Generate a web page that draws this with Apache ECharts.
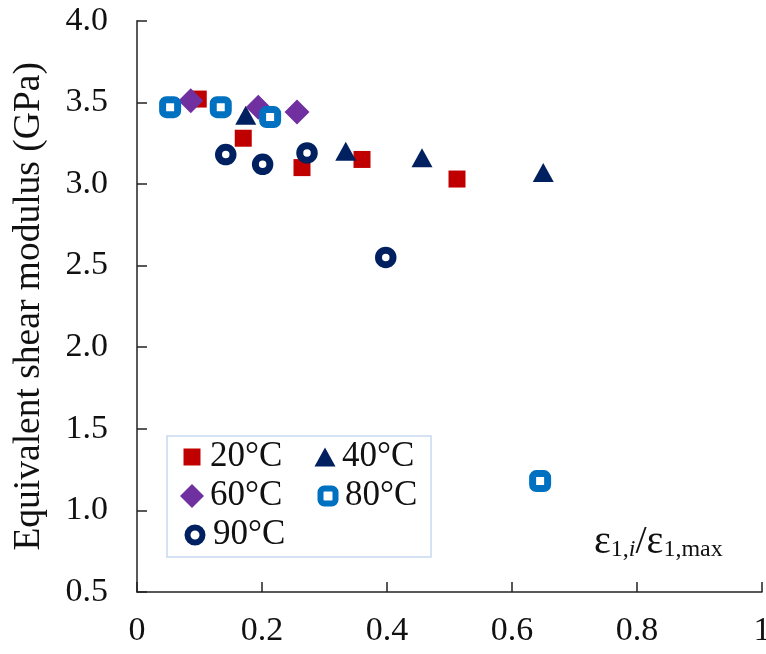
<!DOCTYPE html>
<html>
<head>
<meta charset="utf-8">
<script src="https://cdn.jsdelivr.net/npm/echarts@6/dist/echarts.min.js"></script>
<style>html,body{margin:0;padding:0;background:#fff}#c{width:766px;height:654px}</style>
</head>
<body>
<div id="c"></div>
<script>
const seriesNames = ['20°C', '40°C', '60°C', '80°C', '90°C'];
const data20 = [[0.098, 3.52], [0.170, 3.28], [0.264, 3.10], [0.360, 3.15], [0.512, 3.03]];
const data40 = [[0.174, 3.42], [0.334, 3.20], [0.456, 3.16], [0.650, 3.07]];
const data60 = [[0.086, 3.51], [0.194, 3.47], [0.256, 3.44]];
const data80 = [[0.053, 3.47], [0.134, 3.47], [0.213, 3.41], [0.645, 1.18]];
const data90 = [[0.142, 3.18], [0.201, 3.12], [0.272, 3.19], [0.398, 2.55]];
const xTicks = ['0', '0.2', '0.4', '0.6', '0.8', '1'];
const yTicks = ['0.5', '1.0', '1.5', '2.0', '2.5', '3.0', '3.5', '4.0'];
const yTitle = 'Equivalent shear modulus (GPa)';

const FONT = '"Liberation Serif","Times New Roman",serif';
const chart = echarts.init(document.getElementById('c'), null, {renderer: 'canvas'});
function legend(item, cx, cy, w, h, textStart) {
  const pad = textStart - cx - w / 2 - 5;
  return {
    data: [item], left: cx - w / 2, top: cy - 18, orient: 'horizontal',
    itemWidth: w, itemHeight: h, padding: 0, selectedMode: false,
    textStyle: {fontFamily: FONT, fontSize: 35, color: '#111', lineHeight: 36, padding: [0, 0, 0, pad]}
  };
}
chart.setOption({
  animation: false,
  backgroundColor: '#fff',
  grid: {left: 137, right: 4, top: 20.7, bottom: 62, containLabel: false, outerBoundsMode: 'none'},
  xAxis: {
    type: 'value', min: 0, max: 1, interval: 0.2,
    axisLine: {show: true, lineStyle: {color: '#222', width: 1.5}},
    axisTick: {show: true, inside: true, length: 10, lineStyle: {color: '#222', width: 1.5}},
    splitLine: {show: false},
    axisLabel: {fontFamily: FONT, fontSize: 34, color: '#111', margin: 22,
      formatter: function (v) { return xTicks[Math.round(v / 0.2)]; }}
  },
  yAxis: {
    type: 'value', min: 0.5, max: 4, interval: 0.5,
    name: yTitle, nameLocation: 'middle', nameGap: 89,
    nameTextStyle: {fontFamily: FONT, fontSize: 37.5, color: '#111'},
    axisLine: {show: true, lineStyle: {color: '#222', width: 1.5}},
    axisTick: {show: true, inside: true, length: 10, lineStyle: {color: '#222', width: 1.5}},
    splitLine: {show: false},
    axisLabel: {fontFamily: FONT, fontSize: 34, color: '#111', margin: 29,
      formatter: function (v) { return yTicks[Math.round((v - 0.5) / 0.5)]; }}
  },
  legend: [
    legend(seriesNames[0], 192, 457, 17, 17, 210),
    legend(seriesNames[1], 325, 457, 21, 19, 342),
    legend(seriesNames[2], 192, 496, 24, 24, 210),
    legend({name: seriesNames[3], itemStyle: {color: '#ffffff', borderColor: '#0070c0', borderWidth: 6}}, 325, 496, 15, 15, 342),
    legend({name: seriesNames[4], itemStyle: {color: '#ffffff', borderColor: '#002060', borderWidth: 6}}, 192, 535, 15, 15, 210)
  ],
  graphic: [
    {type: 'rect', shape: {x: 167, y: 436, width: 264, height: 121},
      style: {fill: 'none', stroke: '#c6d9f0', lineWidth: 1.5}, z: 0},
    {type: 'text', left: 594, top: 522, z: 10,
      style: {
        text: '{a|ε}{s|1,}{i|i}{a|/ε}{s|1,max}',
        rich: {
          a: {fontFamily: FONT, fontSize: 40, fill: '#111', verticalAlign: 'bottom', lineHeight: 40},
          s: {fontFamily: FONT, fontSize: 24, fill: '#111', verticalAlign: 'bottom', lineHeight: 40, padding: [14, 0, 0, 0]},
          i: {fontFamily: FONT, fontSize: 24, fontStyle: 'italic', fill: '#111', verticalAlign: 'bottom', lineHeight: 40, padding: [14, 0, 0, 0]}
        }
      }}
  ],
  series: [
    {name: seriesNames[0], type: 'scatter', data: data20, symbol: 'rect', symbolSize: 17,
      itemStyle: {color: '#c00000', opacity: 1}},
    {name: seriesNames[1], type: 'scatter', data: data40, symbol: 'triangle', symbolSize: [21, 19],
      itemStyle: {color: '#002060', opacity: 1}},
    {name: seriesNames[2], type: 'scatter', data: data60, symbol: 'diamond', symbolSize: 25,
      itemStyle: {color: '#7030a0', opacity: 1}},
    {name: seriesNames[3], type: 'scatter', data: data80, symbol: 'roundRect', symbolSize: 15,
      itemStyle: {color: '#ffffff', borderColor: '#0070c0', borderWidth: 7, opacity: 1}},
    {name: seriesNames[4], type: 'scatter', data: data90, symbol: 'circle', symbolSize: 14.5,
      itemStyle: {color: '#ffffff', borderColor: '#002060', borderWidth: 7, opacity: 1}}
  ]
});
</script>
</body>
</html>
